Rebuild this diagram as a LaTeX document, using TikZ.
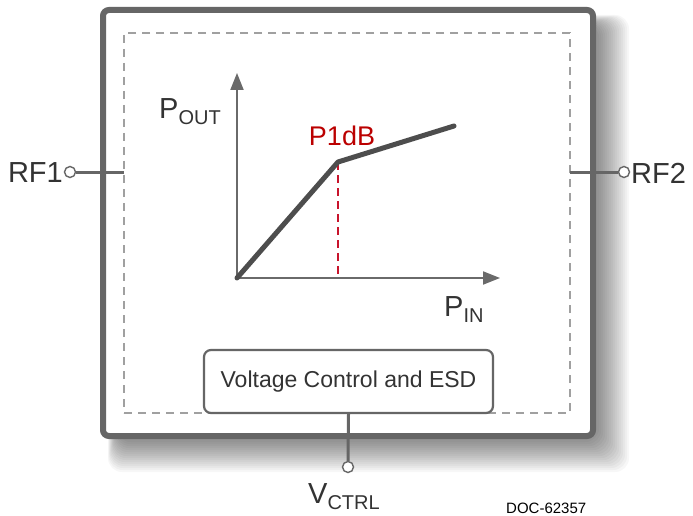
\documentclass[tikz,border=0pt]{standalone}
\usepackage{fontspec}
\setmainfont{Liberation Sans}
\usetikzlibrary{arrows.meta}
\definecolor{framegray}{HTML}{666666}
\definecolor{dashgray}{HTML}{A0A0A0}
\definecolor{curvegray}{HTML}{4D4D4D}
\definecolor{axisgray}{HTML}{6A6A6A}
\definecolor{txtgray}{HTML}{333333}
\definecolor{reddash}{HTML}{C8142C}
\definecolor{redtxt}{HTML}{BB0000}
\newcommand{\subtxt}[1]{\raisebox{-0.24em}{\fontsize{20}{20}\selectfont #1}}
\begin{document}
\begin{tikzpicture}[x=1pt,y=-1pt,
  outerbox/.style={draw=framegray, line width=6pt, rounded corners=6pt, fill=white,
    minimum width=490pt, minimum height=426pt, inner sep=0pt},
  shadowlayer/.style={fill=black, fill opacity=0.03, rounded corners=14pt},
  innerbox/.style={draw=dashgray, line width=2pt, dash pattern=on 8pt off 6pt,
    minimum width=446pt, minimum height=380pt, inner sep=0pt},
  ctrlbox/.style={draw=framegray, line width=2.2pt, rounded corners=7pt, fill=white,
    minimum width=289pt, minimum height=63pt, inner sep=0pt, text=txtgray,
    font=\fontsize{23}{23}\selectfont},
  pin/.style={circle, draw=framegray, line width=1.4pt, fill=white, minimum size=11pt, inner sep=0pt},
  wire/.style={draw=framegray, line width=3pt},
  lbl/.style={text=txtgray, inner sep=0pt, font=\fontsize{29}{29}\selectfont},
  axis/.style={draw=axisgray, line width=2pt, -{Triangle[length=17pt,width=13pt]}},
  curve/.style={draw=curvegray, line width=5pt, line cap=round, line join=round}
]
\useasboundingbox (0,0) rectangle (693,516);
\fill[white] (0,0) rectangle (693,516);

% soft shadow
\foreach \s in {0,2,...,30}{
  \fill[shadowlayer] (103+14-\s*0.3, 10+14-\s*0.3) rectangle (593+6+\s, 436+6+\s);
}

% frame
\node[outerbox] (frame) at (348,223) {};
\node[innerbox] (die) at (347,223) {};

% RF ports
\node[pin] (p1) at (70,172) {};
\node[pin] (p2) at (624,172) {};
\coordinate (d1) at (124,172);
\coordinate (d2) at (570,172);
\draw[wire] (p1.east) -- (d1);
\draw[wire] (p2.west) -- (d2);
\node[lbl, anchor=east] (rf1) at (63,173) {RF1};
\node[lbl, anchor=west] (rf2) at (631,173) {RF2};

% graph
\coordinate (o) at (237,278);
\coordinate (ytip) at (237,73);
\coordinate (xtip) at (500,278);
\draw[axis] (o) -- (ytip);
\draw[axis] (o) -- (xtip);
\coordinate (knee) at (338,162);
\coordinate (kfoot) at (338,278);
\coordinate (cend) at (454,126);
\draw[reddash, line width=2.8pt, dash pattern=on 8pt off 5pt] (knee) -- (kfoot);
\draw[curve] (o) -- (knee) -- (cend);
\node[text=redtxt, inner sep=0pt, font=\fontsize{27}{27}\selectfont] (p1db) at (342,136) {P1dB};
\node[lbl, anchor=base west] (pout) at (159,118) {P\subtxt{OUT}};
\node[lbl, anchor=base west] (pin) at (444,316) {P\subtxt{IN}};

% control block
\node[ctrlbox] (ctrl) at (348.5,381.5) {Voltage Control and ESD};
\node[pin] (p3) at (348,467) {};
\draw[wire] (ctrl.south) -- (p3.north);
\node[lbl, anchor=base west] (vctrl) at (308,503) {V\subtxt{CTRL}};

\node[text=black, inner sep=0pt, anchor=base west, font=\fontsize{15}{15}\selectfont] (doc) at (506,513) {DOC-62357};
\end{tikzpicture}
\end{document}
